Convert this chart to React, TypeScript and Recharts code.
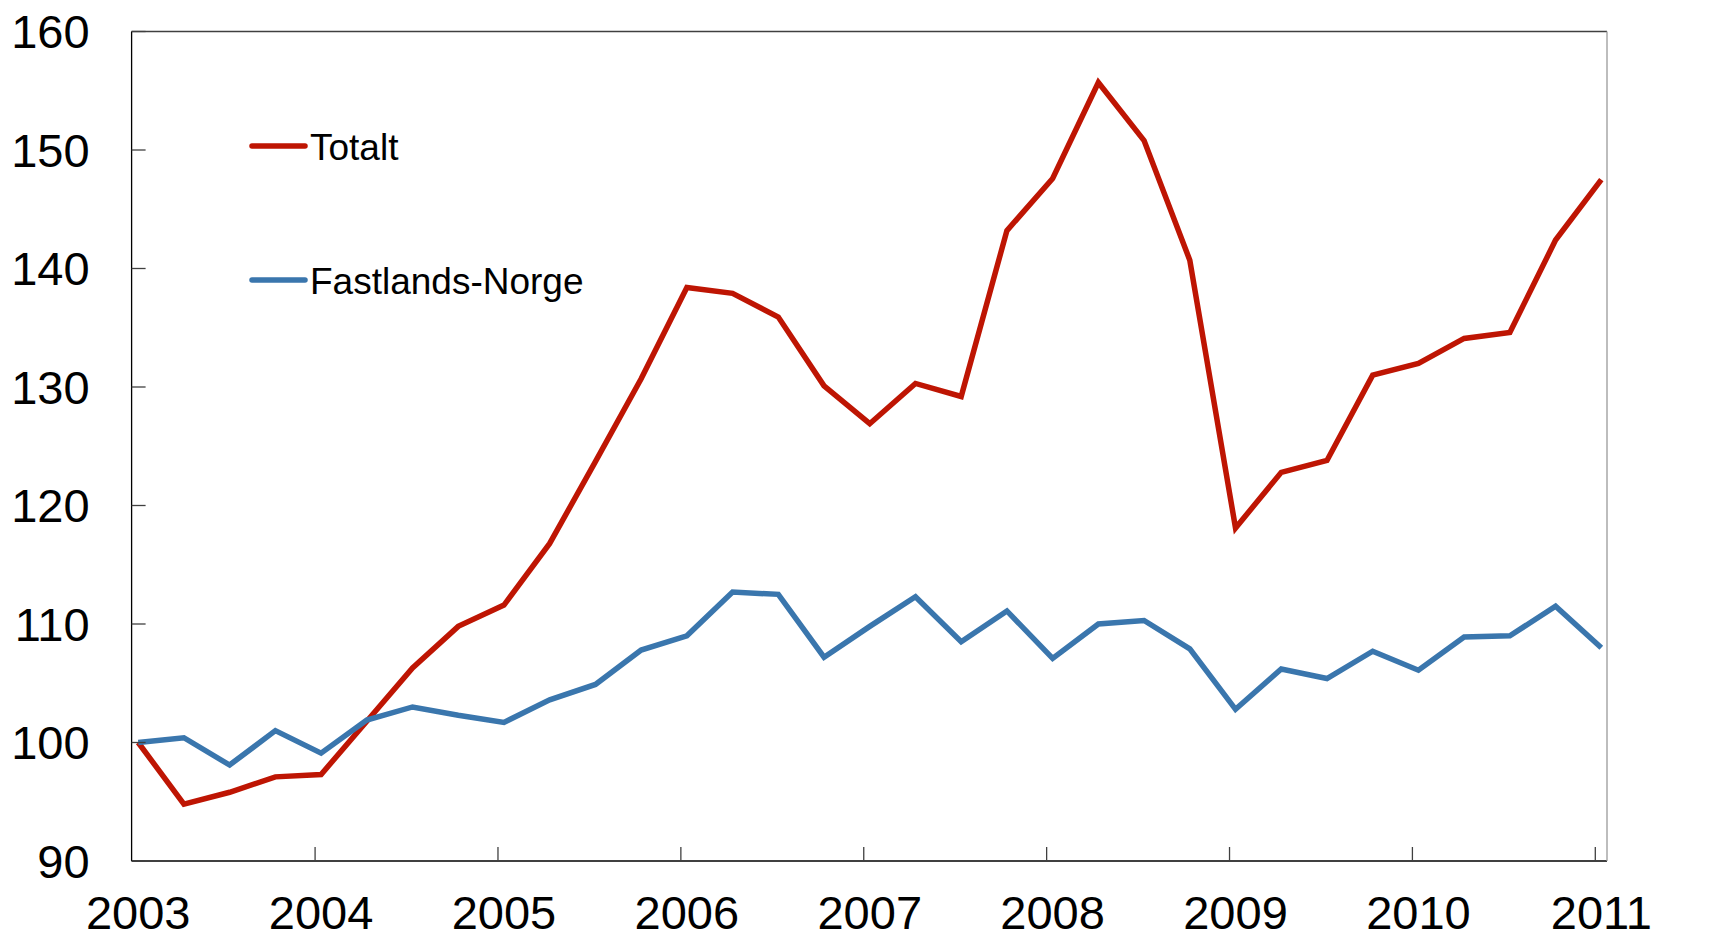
import { LineChart, Line, XAxis, YAxis, ReferenceLine, Legend } from 'recharts';

// kvartalsvis indeks, 2003 K1 = 100
const years = ['2003', '2004', '2005', '2006', '2007', '2008', '2009', '2010', '2011'];

const totalt = [
  100.0, 94.8, 95.8, 97.1, 97.3, 101.8, 106.3, 109.8, 111.6, 116.8, 123.7,
  130.7, 138.4, 137.9, 135.9, 130.1, 126.9, 130.3, 129.2, 143.2, 147.6, 155.7,
  150.8, 140.7, 118.1, 122.8, 123.8, 131.0, 132.0, 134.1, 134.6, 142.4, 147.5,
];

const fastland = [
  100.0, 100.4, 98.1, 101.0, 99.1, 101.9, 103.0, 102.3, 101.7, 103.6, 104.9,
  107.8, 109.0, 112.7, 112.5, 107.2, 109.8, 112.3, 108.5, 111.1, 107.1, 110.0,
  110.3, 107.9, 102.8, 106.2, 105.4, 107.7, 106.1, 108.9, 109.0, 111.5, 108.0,
];

const yTicks = [90, 100, 110, 120, 130, 140, 150, 160];

const RED = '#BE1503';
const BLUE = '#3A76AD';
const FONT = '"Liberation Sans", Arial, sans-serif';

const data = totalt.map((v, i) => ({
  i,
  quarter: `${years[Math.floor(i / 4)]}K${(i % 4) + 1}`,
  totalt: v,
  fastland: fastland[i],
}));

const xTicks = years.map((_, k) => k * 4);

function XTick({ x, y, payload }: any) {
  const k = payload.value / 4;
  return (
    <g>
      {k > 0 && (
        <line x1={x - 6} x2={x - 6} y1={y - 14} y2={y} stroke="#404040" strokeWidth={1.3} />
      )}
      <text x={x} y={y + 68} textAnchor="middle" fontSize={47} fontFamily={FONT} fill="#000">
        {years[k]}
      </text>
    </g>
  );
}

function LeftTick({ x, y, payload }: any) {
  return (
    <g>
      <line x1={x} x2={x + 14} y1={y} y2={y} stroke="#404040" strokeWidth={1.3} />
      <text x={x - 42} y={y + 16.8} textAnchor="end" fontSize={47} fontFamily={FONT} fill="#000">
        {payload.value}
      </text>
    </g>
  );
}

function RightTick({ x, y, payload }: any) {
  return (
    <g>
      <line x1={x - 14} x2={x} y1={y} y2={y} stroke="#9a9a9a" strokeWidth={1.3} />
      <text x={x + 42} y={y + 16.8} textAnchor="start" fontSize={47} fontFamily={FONT} fill="#000">
        {payload.value}
      </text>
    </g>
  );
}

function LegendBox() {
  return (
    <svg width={700} height={320}>
      <line x1={252} x2={305} y1={146} y2={146} stroke={RED} strokeWidth={5.5} strokeLinecap="round" />
      <text x={310} y={159.5} fontSize={37} fontFamily={FONT} fill="#000">Totalt</text>
      <line x1={252} x2={305} y1={280} y2={280} stroke={BLUE} strokeWidth={5.5} strokeLinecap="round" />
      <text x={310} y={293.5} fontSize={37} fontFamily={FONT} fill="#000">Fastlands-Norge</text>
    </svg>
  );
}

export default function App() {
  return (
    <div style={{ position: 'absolute', left: 0, top: 0, width: 1734, height: 940, background: '#fff' }}>
      <LineChart width={1734} height={940} data={data} margin={{ top: 31.5, right: 0, bottom: 0, left: 0 }}>
        <XAxis
          dataKey="i"
          type="number"
          domain={[0, 32]}
          ticks={xTicks}
          interval={0}
          padding={{ left: 6.6, right: 5.7 }}
          height={79}
          axisLine={{ stroke: '#000', strokeWidth: 1.3 }}
          tickLine={false}
          tickSize={0}
          tickMargin={0}
          tick={<XTick />}
        />
        <YAxis
          yAxisId="l"
          orientation="left"
          width={131.6}
          domain={[90, 160]}
          ticks={yTicks}
          interval={0}
          axisLine={{ stroke: '#000', strokeWidth: 1.3 }}
          tickLine={false}
          tickSize={0}
          tickMargin={0}
          tick={<LeftTick />}
        />
        <YAxis
          yAxisId="r"
          orientation="right"
          width={127}
          domain={[90, 160]}
          ticks={yTicks}
          interval={0}
          axisLine={{ stroke: '#9a9a9a', strokeWidth: 1.3 }}
          tickLine={false}
          tickSize={0}
          tickMargin={0}
          tick={<RightTick />}
        />
        <ReferenceLine yAxisId="l" y={160} stroke="#404040" strokeWidth={1.3} />
        <Line
          yAxisId="l"
          type="linear"
          dataKey="totalt"
          name="Totalt"
          stroke={RED}
          strokeWidth={5.5}
          dot={false}
          activeDot={false}
          isAnimationActive={false}
        />
        <Line
          yAxisId="l"
          type="linear"
          dataKey="fastland"
          name="Fastlands-Norge"
          stroke={BLUE}
          strokeWidth={5.5}
          dot={false}
          activeDot={false}
          isAnimationActive={false}
        />
        <Legend
          layout="horizontal"
          verticalAlign="middle"
          align="center"
          wrapperStyle={{ left: 0, top: 0, width: 700, height: 320 }}
          content={() => <LegendBox />}
        />
      </LineChart>
    </div>
  );
}
